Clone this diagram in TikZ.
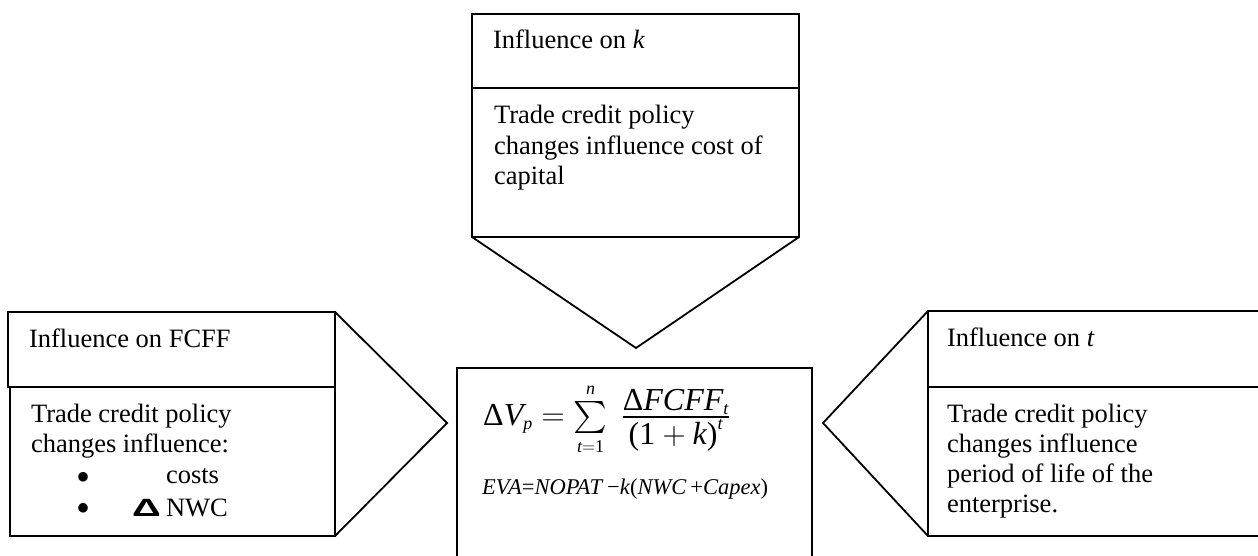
\RequirePackage{fix-cm}
\documentclass[tikz,border=0pt]{standalone}
\usepackage{amsmath}
\usepackage{fontspec}
\setmainfont{Liberation Serif}
\newfontfamily\deltafont{Liberation Sans}
% let the large operators scale with the formula size
\DeclareFontShape{OMX}{cmex}{m}{n}{<->cmex10}{}
\DeclareMathSizes{32}{32}{18}{14}
\DeclareMathSizes{22.5}{22.5}{15}{11}
\newcommand\bodyfont{\fontsize{26.5}{30.3}\selectfont}
\newcommand\itx[1]{\textit{#1}}

\tikzset{
  panel/.style={draw, line width=1.8pt, inner sep=0pt, outer sep=0pt, anchor=north west},
  chevron/.style={draw, line width=1.8pt, line join=miter},
  lbl/.style={anchor=base west, inner sep=0pt, outer sep=0pt, font=\bodyfont},
  dot/.style={anchor=base, inner sep=0pt, outer sep=0pt, font=\fontsize{40}{40}\selectfont},
}

\begin{document}
\begin{tikzpicture}[x=1pt,y=-1pt]
\useasboundingbox (0,0) rectangle (1258,556);
\clip (0,0) rectangle (1258,556);

% ---- cost of capital panel (top) ----
\node[panel, minimum width=327pt, minimum height=74pt]  (kHead) at (472,14) {};
\node[panel, minimum width=327pt, minimum height=149pt] (kBody) at (472,88) {};
\coordinate (kTip) at (636,348);
\draw[chevron] (kBody.south west) -- (kTip) -- (kBody.south east);
\node[lbl] (kTitle) at (493,49) {Influence on \textit{k}};
\node[lbl] (kText) at (494,124) {\begin{tabular}[t]{@{}l@{}}Trade credit policy\\changes influence cost of\\capital\end{tabular}};

% ---- value formula box (centre) ----
\node[panel, minimum width=355pt, minimum height=230pt] (vBox) at (457,368) {};
\node[anchor=base west, inner sep=0pt] (vFormula) at (483,425)
  {\fontsize{32}{36}\selectfont
   $\text{Δ}\itx{V}_{\itx{p}} = \textstyle\sum\limits_{\itx{t}=\text{1}}^{\itx{n}}\;
    \frac{\displaystyle \text{Δ}\itx{FCFF}_{\itx{t}}}{\displaystyle \text{(1}+\itx{k}\text{)}^{\itx{t}}}$};
\node[anchor=base west, inner sep=0pt] (evaFormula) at (482,494)
  {\fontsize{22.5}{26}\selectfont \textit{EVA}=\textit{NOPAT}\,−\textit{k}(\textit{NWC}\,+\textit{Capex})};

% ---- free cash flow panel (left) ----
\node[panel, minimum width=327pt, minimum height=75pt]  (fHead) at (8,312) {};
\node[panel, minimum width=325pt, minimum height=149pt] (fBody) at (10,387) {};
\coordinate (fTip) at (447,423);
\draw[chevron] (fHead.north east) -- (fTip) -- (fBody.south east);
\node[lbl] (fTitle) at (29,347) {Influence on FCFF};
\node[lbl] (fText) at (31,422) {\begin{tabular}[t]{@{}l@{}}Trade credit policy\\changes influence:\end{tabular}};
\node[dot] (fDotA) at (84,490) {•};
\node[lbl] (fCosts) at (166,483) {costs};
\node[dot] (fDotB) at (84,521) {•};
\node[lbl] (fDelta) at (132,516) {\scalebox{1.6}[1]{\fontsize{25}{25}\deltafont\bfseries Δ}};
\node[lbl] (fNwc) at (166,516) {NWC};

% ---- enterprise life panel (right) ----
\node[panel, minimum width=350pt, minimum height=76pt]  (tHead) at (928,311) {};
\node[panel, minimum width=350pt, minimum height=149pt] (tBody) at (928,387) {};
\coordinate (tTip) at (823,423);
\draw[chevron] (tHead.north west) -- (tTip) -- (tBody.south west);
\node[lbl] (tTitle) at (947,346) {Influence on \textit{t}};
\node[lbl] (tText) at (947,422) {\begin{tabular}[t]{@{}l@{}}Trade credit policy\\changes influence\\period of life of the\\enterprise.\end{tabular}};
\end{tikzpicture}
\end{document}
